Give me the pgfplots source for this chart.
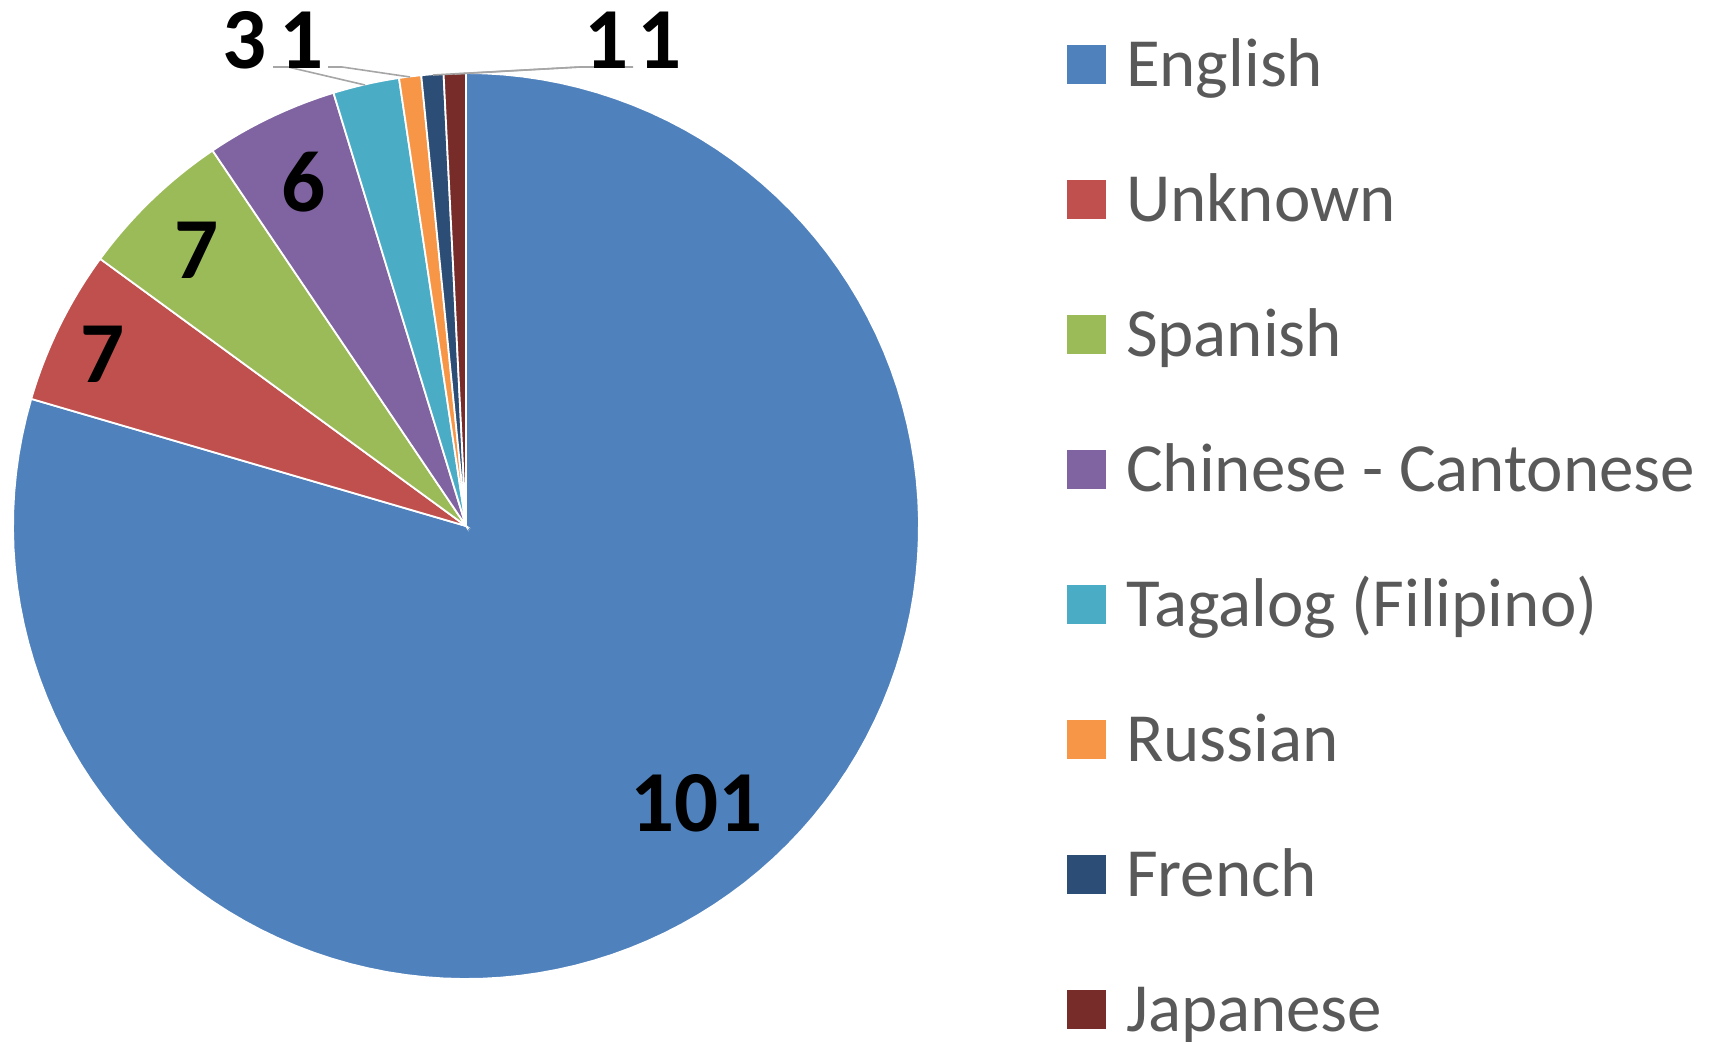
\documentclass[border=0pt]{standalone}
\usepackage{pgfplots}
\pgfplotsset{compat=1.18}
\usepackage{fontspec}
\setmainfont{Carlito}
\definecolor{cEng}{HTML}{4F81BD}
\definecolor{cUnk}{HTML}{C0504D}
\definecolor{cSpa}{HTML}{9BBB59}
\definecolor{cChi}{HTML}{8064A2}
\definecolor{cTag}{HTML}{4BACC6}
\definecolor{cRus}{HTML}{F79646}
\definecolor{cFre}{HTML}{2C4D75}
\definecolor{cJap}{HTML}{772C2A}
\definecolor{lgray}{HTML}{595959}
\definecolor{leader}{HTML}{A6A6A6}
\newcommand\total{127}
\gdef\starta{90}
\newcommand\slice[2]{%
  \pgfmathsetmacro\enda{\starta - #2/\total*360}%
  \edef\tmp{\noexpand\addplot[fill=#1, draw=white, line width=0.9pt, domain=\enda:\starta, samples=120, variable=\noexpand\t] ({466+453*cos(\noexpand\t)},{515+453*sin(\noexpand\t)}) -- (axis cs:466,515) -- cycle;}%
  \tmp
  \xdef\starta{\enda}%
}
\begin{document}
\begin{tikzpicture}
\begin{axis}[name=ax,
  width=858pt, height=520.5pt, scale only axis,
  xmin=0, xmax=1716, ymin=0, ymax=1041,
  hide axis, clip=false,
  legend image code/.code={\fill[#1,draw=none] (0pt,-9.75pt) rectangle (19.5pt,9.75pt);},
  legend cell align=left,
  legend style={at={(axis cs:1067,1008)}, anchor=north west, draw=none, fill=none,
    inner sep=0pt, outer sep=0pt, row sep=36.5pt, column sep=10pt,
    font=\fontsize{34.5}{40}\selectfont, text=lgray,
    nodes={inner sep=0pt, outer sep=0pt, text height=26.5pt, text depth=4.5pt}},
]
\slice{cEng}{101}\addlegendentry{English}
\slice{cUnk}{7}\addlegendentry{Unknown}
\slice{cSpa}{7}\addlegendentry{Spanish}
\slice{cChi}{6}\addlegendentry{Chinese - Cantonese}
\slice{cTag}{3}\addlegendentry{Tagalog (Filipino)}
\slice{cRus}{1}\addlegendentry{Russian}
\slice{cFre}{1}\addlegendentry{French}
\slice{cJap}{1}\addlegendentry{Japanese}
% leader lines
\draw[leader, line width=0.8pt] (axis cs:273,974) -- (axis cs:288,974) -- (axis cs:365,956);
\draw[leader, line width=0.8pt] (axis cs:328,974) -- (axis cs:342,974) -- (axis cs:410,964);
\draw[leader, line width=0.8pt] (axis cs:433,966) -- (axis cs:580,974) -- (axis cs:633,974);
\draw[leader, line width=0.8pt] (axis cs:455,967) -- (axis cs:580,974);
% data labels
\begin{scope}[every node/.style={inner sep=0pt, font=\fontsize{43.5}{50}\selectfont\bfseries, text=black}]
\node at (axis cs:696.5,237.5) {101};
\node at (axis cs:103,687) {7};
\node at (axis cs:197,791) {7};
\node at (axis cs:304,859) {6};
\node at (axis cs:245,1000.5) {3};
\node at (axis cs:302,1000.5) {1};
\node at (axis cs:607,1000.5) {1};
\node at (axis cs:660,1000.5) {1};
\end{scope}
\end{axis}
\pgfresetboundingbox
\useasboundingbox (ax.south west) rectangle (ax.north east);
\end{tikzpicture}
\end{document}
